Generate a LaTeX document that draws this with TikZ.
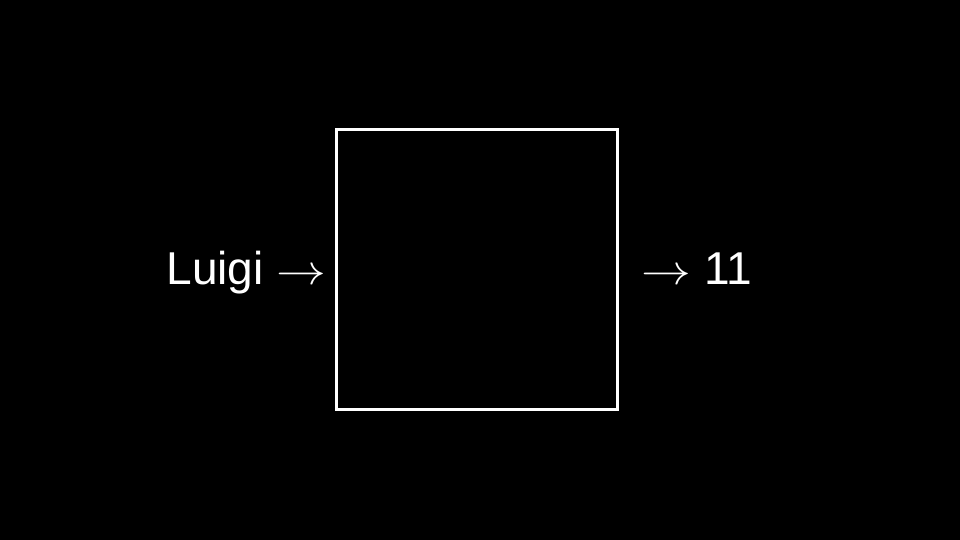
\documentclass[tikz,border=0pt]{standalone}
\usepackage{fontspec}
\setmainfont{Liberation Sans}
\usepackage{tikz}

\newcommand{\wideto}{\scalebox{1.18}[1.0]{$\rightarrow$}}

\begin{document}
\begin{tikzpicture}
\fill[black] (0,0) rectangle (9.6,-5.4);
\useasboundingbox (0,0) rectangle (9.6,-5.4);

\node (box) [draw=white, line width=0.03 cm, minimum width=2.81cm, minimum height=2.80cm, inner sep=0] at (4.77,-2.695) {};

\node (inp) [white, anchor=base east, inner sep=0, font=\fontsize{13.1}{15}\selectfont] at (3.27,-2.85) {Luigi \wideto};
\node (out) [white, anchor=base west, inner sep=0, font=\fontsize{13.1}{15}\selectfont] at (6.41,-2.85) {\wideto\ 11};

\end{tikzpicture}
\end{document}
